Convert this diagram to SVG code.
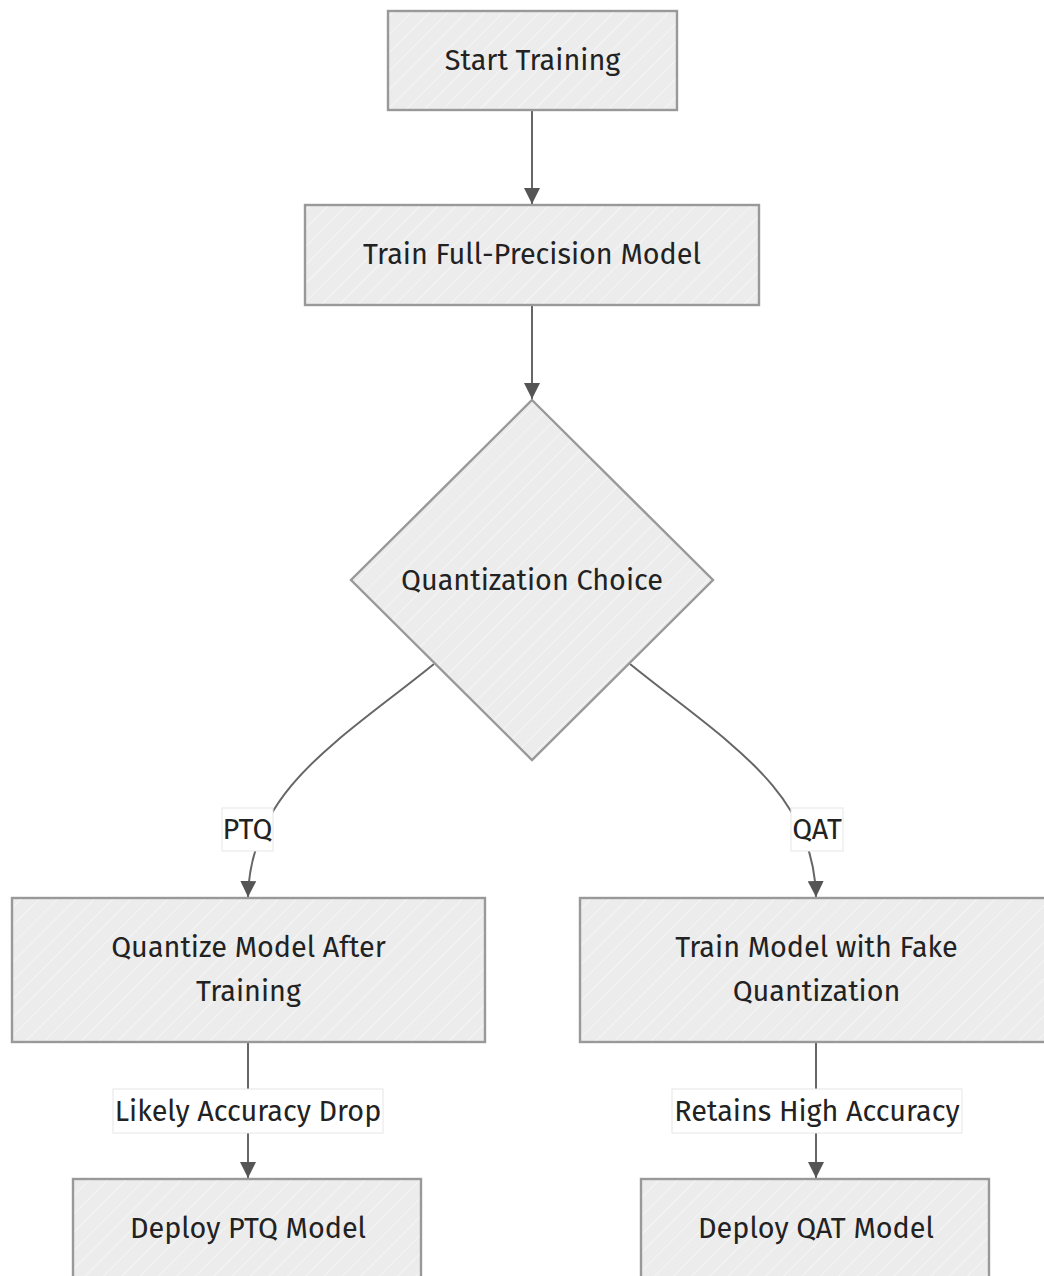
<svg xmlns="http://www.w3.org/2000/svg" width="1044" height="1276" viewBox="0 0 1044 1276">
<style>
.node{fill:url(#hatch);stroke:#999;stroke-width:2.4}
.t{font-family:"Fira Sans","Open Sans","Noto Sans",sans-serif;font-size:28.8px;fill:#222;text-anchor:middle;dominant-baseline:central}
.edge{fill:none;stroke:#666;stroke-width:2}
.lbl{fill:#fff;stroke:#e6e6e6;stroke-width:1}
.lt{font-family:"Fira Sans","Open Sans","Noto Sans",sans-serif;font-size:28.8px;fill:#222;text-anchor:middle;dominant-baseline:central}
</style>
<defs>
<pattern id="hatch" patternUnits="userSpaceOnUse" width="13" height="13" patternTransform="rotate(45)">
<rect width="13" height="13" fill="#ececec"/>
<line x1="0" y1="0" x2="0" y2="13" stroke="#fafafa" stroke-width="1.4"/>
</pattern>
<marker id="arrow" viewBox="0 0 12 12" refX="12" refY="6" markerWidth="16" markerHeight="16" markerUnits="userSpaceOnUse" orient="auto">
<path d="M0,0 L12,6 L0,12 z" fill="#555"/>
</marker>
</defs>
<g id="edges">
<path class="edge" d="M532,110 L532,204" marker-end="url(#arrow)"/>
<path class="edge" d="M532,305 L532,399" marker-end="url(#arrow)"/>
<path class="edge" d="M434,664 C340,740 250,790 248,897" marker-end="url(#arrow)"/>
<path class="edge" d="M630,664 C724,740 814,790 816,897" marker-end="url(#arrow)"/>
<path class="edge" d="M248,1042 L248,1178" marker-end="url(#arrow)"/>
<path class="edge" d="M816,1042 L816,1178" marker-end="url(#arrow)"/>
</g>
<g id="edge-labels">
<g id="label-ptq"><rect class="lbl" x="222" y="808" width="51" height="43"/><text class="lt" x="247.5" y="829.5">PTQ</text></g>
<g id="label-qat"><rect class="lbl" x="791" y="808" width="52" height="43"/><text class="lt" x="817" y="829.5">QAT</text></g>
<g id="label-drop"><rect class="lbl" x="113" y="1089" width="270" height="44"/><text class="lt" x="248" y="1111">Likely Accuracy Drop</text></g>
<g id="label-retains"><rect class="lbl" x="672" y="1089" width="290" height="44"/><text class="lt" x="817" y="1111">Retains High Accuracy</text></g>
</g>
<g id="start"><rect class="node" x="388" y="11" width="289" height="99"/><text class="t" x="532.5" y="60">Start Training</text></g>
<g id="train-fp"><rect class="node" x="305" y="205" width="454" height="100"/><text class="t" x="532" y="254">Train Full-Precision Model</text></g>
<g id="choice"><path class="node" d="M532,400 L713,580 L532,760 L351,580 Z"/><text class="t" x="532" y="580">Quantization Choice</text></g>
<g id="ptq"><rect class="node" x="12" y="898" width="473" height="144"/><text class="t" x="248.5" y="947">Quantize Model After</text><text class="t" x="248.5" y="991">Training</text></g>
<g id="qat"><rect class="node" x="580" y="898" width="473" height="144"/><text class="t" x="816.5" y="947">Train Model with Fake</text><text class="t" x="816.5" y="991">Quantization</text></g>
<g id="deploy-ptq"><rect class="node" x="73" y="1179" width="348" height="120"/><text class="t" x="248" y="1228">Deploy PTQ Model</text></g>
<g id="deploy-qat"><rect class="node" x="641" y="1179" width="348" height="120"/><text class="t" x="816" y="1228">Deploy QAT Model</text></g>
</svg>
